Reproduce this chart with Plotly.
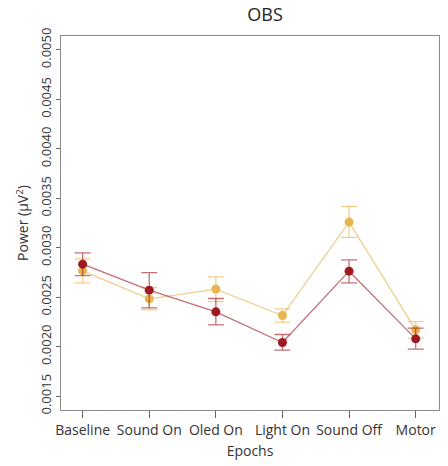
import plotly.graph_objects as go

epochs = ["Baseline", "Sound On", "Oled On", "Light On", "Sound Off", "Motor"]
x_pos = [1, 2, 3, 4, 5, 6]

red_mean = [0.002834, 0.002571, 0.002352, 0.002042, 0.002763, 0.002079]
red_upper = [0.002948, 0.002749, 0.002487, 0.002123, 0.002877, 0.002187]
red_lower = [0.002719, 0.002392, 0.002221, 0.001965, 0.002645, 0.001975]

org_mean = [0.002766, 0.002483, 0.002582, 0.002315, 0.003259, 0.002170]
org_upper = [0.002888, 0.002598, 0.002706, 0.002382, 0.003417, 0.002254]
org_lower = [0.002645, 0.002372, 0.002456, 0.002248, 0.003104, 0.002087]

y_ticks = [0.0015, 0.0020, 0.0025, 0.0030, 0.0035, 0.0040, 0.0045, 0.0050]

fig = go.Figure()

def add_series(mean, upper, lower, marker_col, line_col):
    fig.add_trace(go.Scatter(
        x=x_pos, y=mean, mode="lines+markers",
        line=dict(color=line_col, width=1.3),
        marker=dict(color=marker_col, size=9),
        error_y=dict(type="data", symmetric=False,
                     array=[u - m for u, m in zip(upper, mean)],
                     arrayminus=[m - l for m, l in zip(mean, lower)],
                     color=line_col, thickness=1.3, width=8),
        showlegend=False,
    ))

add_series(org_mean, org_upper, org_lower, "#E8B450", "rgba(236,190,100,0.75)")
add_series(red_mean, red_upper, red_lower, "#9E1A20", "rgba(170,50,60,0.7)")

font_family = "Open Sans, Noto Sans, sans-serif"

fig.update_layout(
    width=448, height=466,
    margin=dict(l=61, r=9, t=36, b=56),
    paper_bgcolor="white", plot_bgcolor="white",
    font=dict(family=font_family, color="#333333", size=14),
    title=dict(text="OBS", x=265 / 448, xref="container", xanchor="center",
               y=1 - 15 / 466, yref="container", yanchor="middle",
               font=dict(size=18, color="#222222")),
)
fig.update_xaxes(
    range=[0.675, 6.35], tickmode="array", tickvals=x_pos, ticktext=epochs,
    showgrid=False, zeroline=False, showline=True, mirror=True,
    linecolor="#8a8a8a", linewidth=1, ticks="outside", ticklen=7,
    tickcolor="#666666", tickfont=dict(size=14, color="#333333"),
    title=dict(text="Epochs", font=dict(size=14, color="#333333"), standoff=8),
)
fig.update_yaxes(
    range=[0.00136, 0.00514], tickmode="array", tickvals=y_ticks,
    ticktext=[f"{v:.4f}" for v in y_ticks], tickangle=-90,
    showgrid=False, zeroline=False, showline=True, mirror=True,
    linecolor="#8a8a8a", linewidth=1, ticks="outside", ticklen=4,
    tickcolor="#666666", tickfont=dict(size=13, color="#333333"),
    title=dict(text="Power (µV<sup>2</sup>)", font=dict(size=14, color="#333333"), standoff=4),
)

fig.write_html("out.html", config={"displayModeBar": False},
               post_script="document.body.style.margin='0';")
